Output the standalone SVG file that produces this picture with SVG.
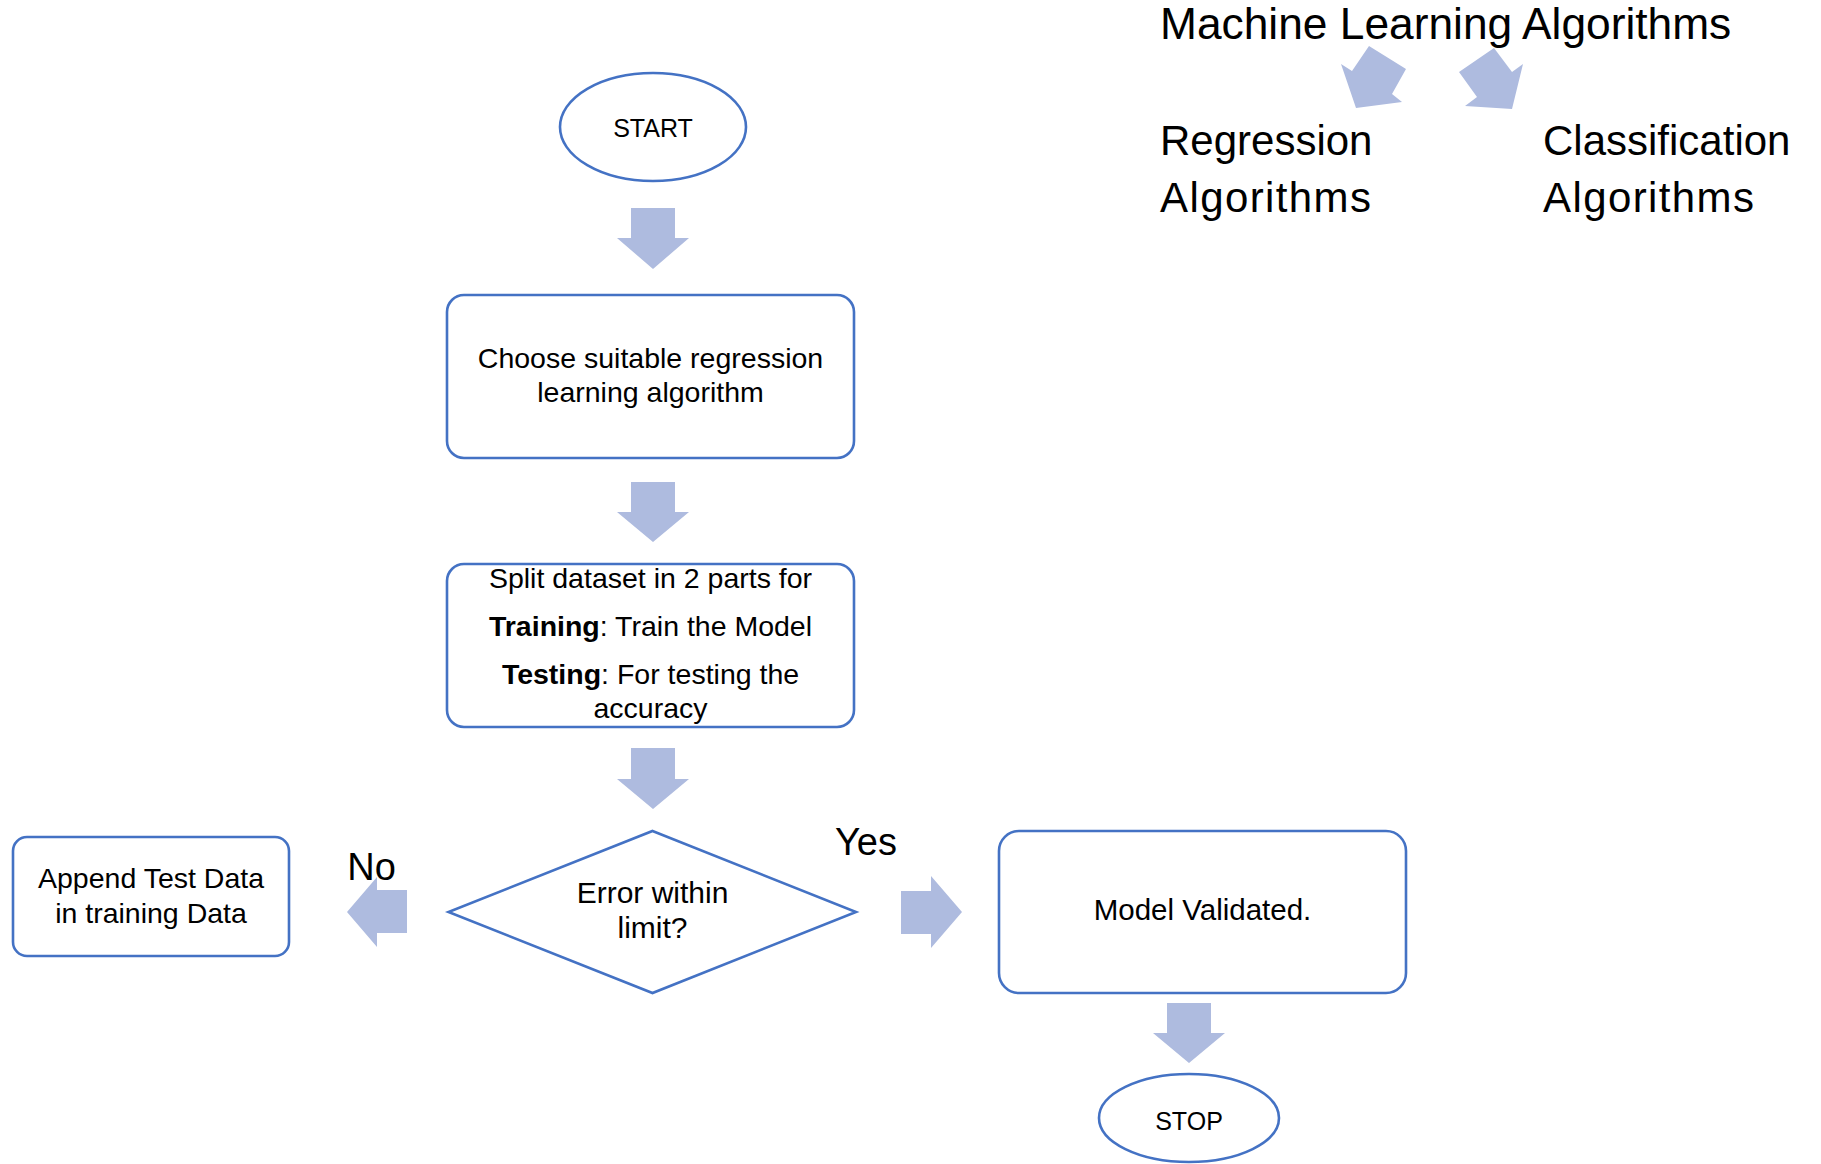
<svg xmlns="http://www.w3.org/2000/svg" width="1821" height="1164" viewBox="0 0 1821 1164">
  <style>
    .shape { fill: #ffffff; stroke: #4472C4; stroke-width: 2.6; }
    .flow { fill: #AEBBDF; stroke: none; }
    text { font-family: "Liberation Sans", Arial, sans-serif; fill: #000000; }
    .node { font-size: 28.5px; text-anchor: middle; }
    .term { font-size: 25px; text-anchor: middle; }
    .branch { font-size: 38px; text-anchor: middle; }
    .title { font-size: 44.3px; }
    .sub { font-size: 42px; }
    .b { font-weight: bold; }
  </style>

  <!-- Algorithm family heading -->
  <g id="ml-heading">
    <text class="title" x="1160" y="39">Machine Learning Algorithms</text>
  </g>
  <g id="regression-algorithms">
    <text class="sub" x="1160" y="155">Regression</text>
    <text class="sub" x="1160" y="211.5" textLength="211" lengthAdjust="spacing">Algorithms</text>
  </g>
  <g id="classification-algorithms">
    <text class="sub" x="1543" y="155">Classification</text>
    <text class="sub" x="1543" y="211.5" textLength="211" lengthAdjust="spacing">Algorithms</text>
  </g>

  <!-- Flowchart nodes -->
  <g id="start">
    <ellipse class="shape" cx="653" cy="127" rx="93" ry="54"/>
    <text class="term" x="653" y="137">START</text>
  </g>

  <g id="choose-algorithm">
    <rect class="shape" x="447" y="295" width="407" height="163" rx="17" ry="17"/>
    <text class="node" x="650.5" y="368">Choose suitable regression</text>
    <text class="node" x="650.5" y="402">learning algorithm</text>
  </g>

  <g id="split-dataset">
    <rect class="shape" x="447" y="564" width="407" height="163" rx="17" ry="17"/>
    <text class="node" x="650.5" y="588">Split dataset in 2 parts for</text>
    <text class="node" x="650.5" y="636"><tspan class="b">Training</tspan>: Train the Model</text>
    <text class="node" x="650.5" y="684"><tspan class="b">Testing</tspan>: For testing the</text>
    <text class="node" x="650.5" y="718">accuracy</text>
  </g>

  <g id="error-check">
    <polygon class="shape" points="652.5,831 856,912 652.5,993 448.5,912"/>
    <text class="node" x="652.5" y="903" style="font-size:30px">Error within</text>
    <text class="node" x="652.5" y="938" style="font-size:30px">limit?</text>
  </g>

  <g id="append-test-data">
    <rect class="shape" x="13" y="837" width="276" height="119" rx="14" ry="14"/>
    <text class="node" x="151" y="888">Append Test Data</text>
    <text class="node" x="151" y="923">in training Data</text>
  </g>

  <g id="model-validated">
    <rect class="shape" x="999" y="831" width="407" height="162" rx="20" ry="20"/>
    <text class="node" x="1202.5" y="920" style="font-size:29.5px">Model Validated.</text>
  </g>

  <g id="stop">
    <ellipse class="shape" cx="1189" cy="1118" rx="90" ry="44"/>
    <text class="term" x="1189" y="1130">STOP</text>
  </g>

  <!-- Block-arrow connectors and branch labels -->
  <g id="connectors">
    <polygon class="flow" points="1369,46 1406,69 1392,94 1402,102 1356,108 1341,64 1352,71"/>
    <polygon class="flow" points="1494,48 1459,72 1477,97 1465,106 1512,109 1523,64 1512,72"/>

    <polygon class="flow" points="631,208 675,208 675,238 689,238 653,269 617,238 631,238"/>
    <polygon class="flow" points="631,482 675,482 675,512 689,512 653,542 617,512 631,512"/>
    <polygon class="flow" points="631,748 675,748 675,779 689,779 653,809 617,779 631,779"/>
    <polygon class="flow" points="1167,1003 1211,1003 1211,1033 1225,1033 1189,1063 1153,1033 1167,1033"/>

    <polygon class="flow" points="407,890 407,933 377,933 377,947 347,912 377,877 377,890"/>
    <polygon class="flow" points="901,891 931,891 931,876 962,912 931,948 931,934 901,934"/>

    <text class="branch" x="371.5" y="880">No</text>
    <text class="branch" x="866" y="855">Yes</text>
  </g>
</svg>
